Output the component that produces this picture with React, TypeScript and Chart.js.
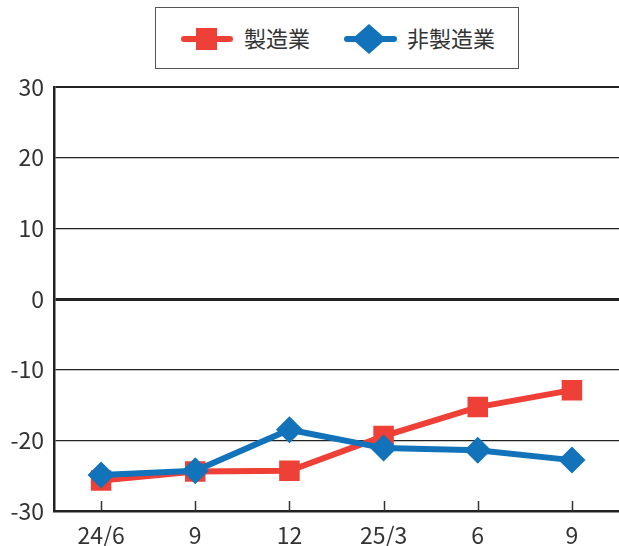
import React, { useEffect, useRef } from "react";
import { Chart, registerables } from "chart.js";

Chart.register(...registerables);

const labels = ["24/6", "9", "12", "25/3", "6", "9"];
const manufacturing = [-25.7, -24.4, -24.3, -19.4, -15.3, -12.9];
const nonManufacturing = [-24.9, -24.3, -18.5, -21.1, -21.4, -22.8];
const yTicks = [30, 20, 10, 0, -10, -20, -30];

const RED = "#EE4036";
const BLUE = "#1273BA";
const INK = "#333333";
const FONT = "'Noto Sans CJK JP', 'Noto Sans', sans-serif";

// Short upward tick marks on the category axis, drawn inside the plot
const innerTicks = {
  id: "innerTicks",
  afterDraw(chart: any) {
    const x = chart.scales.x;
    const bottom = chart.chartArea.bottom;
    const ctx = chart.ctx;
    ctx.save();
    ctx.strokeStyle = INK;
    ctx.lineWidth = 1.5;
    labels.forEach((_, i) => {
      const px = Math.round(x.getPixelForTick(i)) + 0.5;
      ctx.beginPath();
      ctx.moveTo(px, bottom - 10);
      ctx.lineTo(px, bottom);
      ctx.stroke();
    });
    ctx.restore();
  },
};

function Legend() {
  const text: React.CSSProperties = {
    fontFamily: FONT,
    fontSize: 22,
    color: INK,
    position: "absolute",
    top: 14,
    lineHeight: "30px",
  };
  return (
    <div
      style={{
        position: "absolute",
        left: 155,
        top: 7,
        width: 362,
        height: 60,
        border: "1px solid #555",
        background: "#fff",
      }}
    >
      <svg width={362} height={60} style={{ position: "absolute", left: 0, top: 0 }}>
        <line x1={28} y1={31} x2={74} y2={31} stroke={RED} strokeWidth={6} strokeLinecap="round" />
        <rect x={40} y={20} width={21} height={22} fill={RED} />
        <line x1={191} y1={31} x2={238} y2={31} stroke={BLUE} strokeWidth={6} strokeLinecap="round" />
        <polygon points="213,16 230,31 213,46 196,31" fill={BLUE} />
      </svg>
      <span style={{ ...text, left: 88 }}>製造業</span>
      <span style={{ ...text, left: 251 }}>非製造業</span>
    </div>
  );
}

export default function App() {
  const ref = useRef<HTMLCanvasElement | null>(null);

  useEffect(() => {
    if (!ref.current) return;
    const chart = new Chart(ref.current, {
      type: "line",
      data: {
        labels,
        datasets: [
          {
            label: "製造業",
            data: manufacturing,
            borderColor: RED,
            backgroundColor: RED,
            borderWidth: 6,
            pointStyle: "rect",
            pointRadius: 14.5,
            pointBorderWidth: 0,
            order: 2,
          },
          {
            label: "非製造業",
            data: nonManufacturing,
            borderColor: BLUE,
            backgroundColor: BLUE,
            borderWidth: 6,
            pointStyle: "rectRot",
            pointRadius: 13.5,
            pointBorderWidth: 0,
            order: 1,
          },
        ],
      },
      options: {
        animation: false,
        responsive: false,
        layout: { autoPadding: false, padding: { top: 87, right: 0, left: 0, bottom: 0 } },
        plugins: {
          legend: { display: false },
          tooltip: { enabled: false },
        },
        scales: {
          x: {
            offset: true,
            grid: { display: false, drawTicks: false },
            border: { display: true, color: "#222", width: 2.5 },
            ticks: {
              color: INK,
              font: { family: FONT, size: 23 },
              padding: 10,
              maxRotation: 0,
            },
            afterFit(scale: any) {
              scale.height = 35;
            },
          },
          y: {
            min: -30,
            max: 30,
            afterBuildTicks(scale: any) {
              scale.ticks = yTicks.map((v) => ({ value: v }));
            },
            grid: {
              drawTicks: false,
              color: "#222",
              lineWidth: (c: any) =>
                c.tick && c.tick.value === 0 ? 3 : c.tick && c.tick.value === 30 ? 2 : 1.2,
            },
            border: { display: true, color: "#222", width: 2.5 },
            ticks: {
              color: INK,
              font: { family: FONT, size: 23 },
              padding: 10,
            },
            afterFit(scale: any) {
              scale.width = 54;
            },
          },
        },
      },
      plugins: [innerTicks],
    });
    return () => chart.destroy();
  }, []);

  return (
    <div
      style={{
        position: "fixed",
        left: 0,
        top: 0,
        width: 619,
        height: 546,
        background: "#fff",
        overflow: "hidden",
      }}
    >
      <canvas ref={ref} width={619} height={546} style={{ display: "block" }} />
      <Legend />
    </div>
  );
}
